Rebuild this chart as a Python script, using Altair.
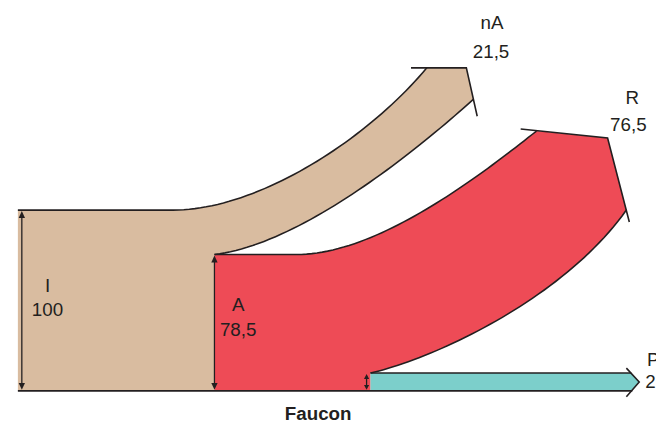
import altair as alt
import numpy as np
import pandas as pd

# ---------------- data ----------------
flow_names = ["I", "A", "nA", "R", "P"]
flow_values = [100, 78.5, 21.5, 76.5, 2]
caption = "Faucon"

def fmt(v):
    return f"{v:g}".replace(".", ",")

# ---------------- layout (page pixels) ----------------
TAN = "#D9BCA0"
RED = "#EE4B56"
CYAN = "#7CCFCB"
INK = "#231F20"
FONT = "Liberation Sans"

def bez(p0, p1, p2, p3, n=48):
    t = np.linspace(0, 1, n)[:, None]
    p0, p1, p2, p3 = (np.array(p, dtype=float) for p in (p0, p1, p2, p3))
    pts = (1 - t) ** 3 * p0 + 3 * (1 - t) ** 2 * t * p1 + 3 * (1 - t) * t ** 2 * p2 + t ** 3 * p3
    return [tuple(p) for p in pts]

BASE = 393
tan_top = [(18, 210)] + bez((175, 210), (260, 210), (370, 140), (432, 66))
tan_bot = bez((217, 255), (300, 245), (410, 160), (479, 98))
red_top = [(217, 255)] + bez((300, 255), (380, 255), (480, 180), (543, 130))
red_bot = bez((375, 375), (440, 360), (570, 300), (634, 210))

tan_poly = tan_top + [(472, 66)] + tan_bot[::-1] + [(217, BASE), (18, BASE), (18, 210)]
red_poly = red_top + [(615, 137)] + red_bot[::-1] + [(375, BASE), (217, BASE), (217, 255)]
cyan_poly = [(375, 375), (638.6, 375), (647, 384), (638.6, BASE), (375, BASE), (375, 375)]

outlines = {
    "tan_top": tan_top,
    "tan_chev": [(416, 66), (472, 66), (483, 115)],
    "tan_bot": tan_bot,
    "red_top": red_top,
    "red_chev": [(527, 128), (615, 137), (637, 222)],
    "red_bot": red_bot,
    "cyan_top": [(375, 375), (639, 375)],
    "cyan_chev": [(634, 370), (647, 384), (634, 399)],
    "base": [(18, BASE), (640, BASE)],
}

# double arrows (x, top, bottom)
darrows = [(22, 211, 392), (217, 256, 392), (371, 376, 392)]
heads = {}
shafts = {}
for k, (x, t, b) in enumerate(darrows):
    hw, hh = (3.2, 7) if b - t > 30 else (2.6, 5)
    heads[f"u{k}"] = [(x, t), (x - hw, t + hh), (x + hw, t + hh), (x, t)]
    heads[f"d{k}"] = [(x, b), (x - hw, b - hh), (x + hw, b - hh), (x, b)]
    shafts[f"s{k}"] = [(x, t + 3), (x, b - 3)]

def frame(d):
    rows = []
    for key, pts in d.items():
        for i, (x, y) in enumerate(pts):
            rows.append({"seg": key, "i": i, "x": x, "y": y})
    return pd.DataFrame(rows)

X = alt.X("x:Q", scale=alt.Scale(domain=[8, 664]), axis=None)
Y = alt.Y("y:Q", scale=alt.Scale(domain=[426, 8]), axis=None)

def filled(d, color):
    return alt.Chart(frame(d)).mark_line(fill=color, strokeWidth=0, interpolate="linear").encode(
        x=X, y=Y, detail="seg:N", order="i:Q"
    )

fills = [
    filled({"tan": tan_poly}, TAN),
    filled({"red": red_poly}, RED),
    filled({"cyan": cyan_poly}, CYAN),
]
lines = alt.Chart(frame(outlines)).mark_line(color=INK, strokeWidth=1.6).encode(
    x=X, y=Y, detail="seg:N", order="i:Q"
)
shaft_lines = alt.Chart(frame(shafts)).mark_line(color=INK, strokeWidth=1.3).encode(
    x=X, y=Y, detail="seg:N", order="i:Q"
)
head_fill = filled(heads, INK)

# labels
label_pos = {
    "I": [(48, 287, "center"), (48, 311, "center")],
    "A": [(241, 306, "center"), (241, 331, "center")],
    "nA": [(498, 21, "center"), (497, 50, "center")],
    "R": [(640, 97, "center"), (636, 124, "center")],
    "P": [(655, 362, "left"), (653, 384, "left")],
}
trows = []
for name, val in zip(flow_names, flow_values):
    (x1, y1, a1), (x2, y2, a2) = label_pos[name]
    trows.append({"x": x1, "y": y1, "t": name, "a": a1})
    trows.append({"x": x2, "y": y2, "t": fmt(val), "a": a2})
tdf = pd.DataFrame(trows)

def texts(df, align):
    return alt.Chart(df[df.a == align]).mark_text(
        font=FONT, fontSize=19, color=INK, align=align, baseline="middle"
    ).encode(x=X, y=Y, text="t:N")

cap = alt.Chart(pd.DataFrame({"x": [322], "y": [416], "t": [caption]})).mark_text(
    font=FONT, fontSize=19, fontWeight="bold", color=INK, align="center", baseline="middle"
).encode(x=X, y=Y, text="t:N")

chart = alt.layer(
    *fills, lines, shaft_lines, head_fill, texts(tdf, "center"), texts(tdf, "left"), cap
).properties(
    width=656, height=418, padding=0, autosize=alt.AutoSizeParams(type="none"), background="white"
).configure_view(stroke=None)

chart.save("out.html", embed_options={"renderer": "svg", "actions": False})
